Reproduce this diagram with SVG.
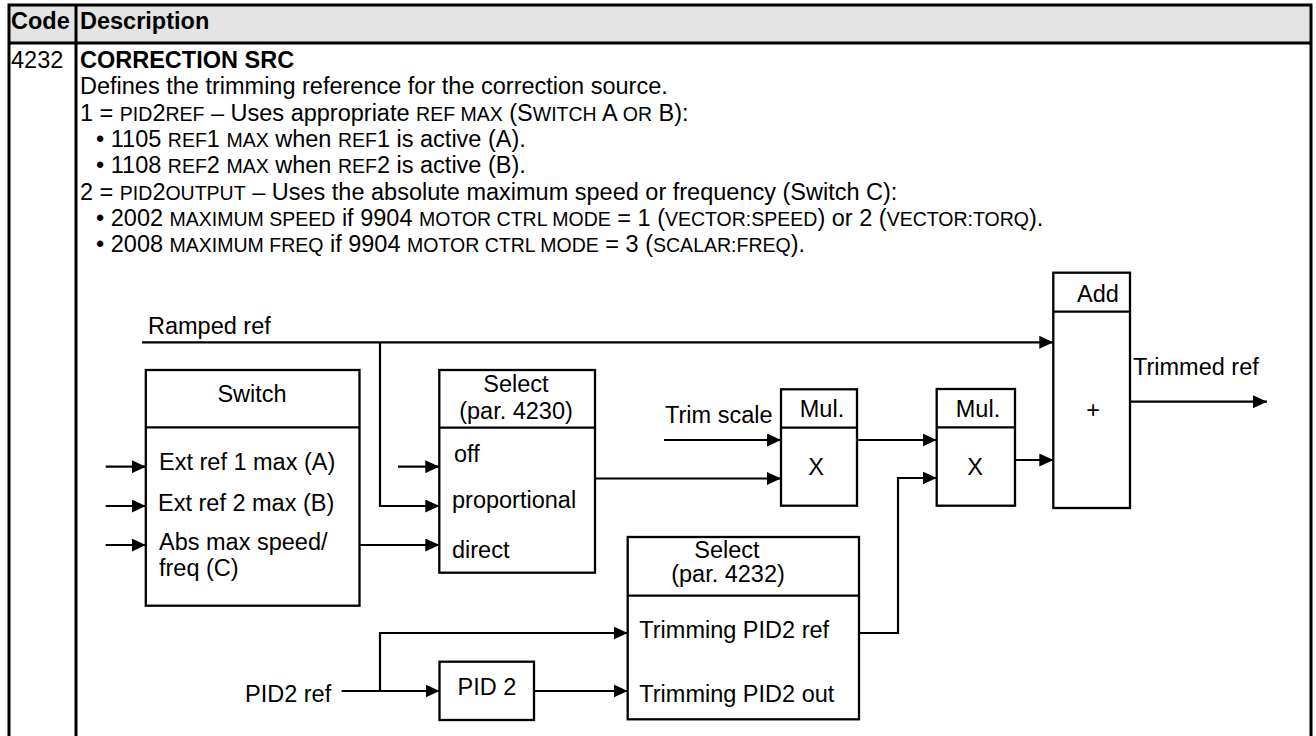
<svg xmlns="http://www.w3.org/2000/svg" width="1316" height="736" viewBox="0 0 1316 736">
<style>
text{font-family:"Liberation Sans",Arial,sans-serif;font-size:23.5px;fill:#000}
.b{font-weight:bold}
.sc{font-size:19.5px}
.mid{text-anchor:middle}
.tbl{stroke:#000;stroke-width:3;fill:none}
.box{stroke:#000;stroke-width:2.3;fill:#fff}
.ln{stroke:#000;stroke-width:2.2;fill:none}
.ar{marker-end:url(#ah)}
</style>
<defs>
<marker id="ah" markerUnits="userSpaceOnUse" markerWidth="14" markerHeight="13" refX="14" refY="6.5" orient="auto">
<path d="M0,0 L14,6.5 L0,13 z" fill="#000"/>
</marker>
</defs>
<rect width="1316" height="736" fill="#fff"/>
<g id="table">
<rect x="9" y="5" width="1302" height="38" fill="#e4e4e4"/>
<path class="tbl" d="M9,736 V5 H1311 V736 M9,43 H1311 M76,5 V736"/>
<text class="b" x="11" y="29">Code</text>
<text class="b" x="80" y="29">Description</text>
<text x="11" y="68">4232</text>
<text class="b" x="80" y="68">CORRECTION SRC</text>
<text x="80" y="94.3">Defines the trimming reference for the correction source.</text>
<text x="80" y="120.6">1 = <tspan class="sc">PID</tspan>2<tspan class="sc">REF</tspan> – Uses appropriate <tspan class="sc">REF MAX</tspan> (S<tspan class="sc">WITCH</tspan> A <tspan class="sc">OR</tspan> B):</text>
<text x="96" y="146.9">• 1105 <tspan class="sc">REF</tspan>1 <tspan class="sc">MAX</tspan> when <tspan class="sc">REF</tspan>1 is active (A).</text>
<text x="96" y="173.2">• 1108 <tspan class="sc">REF</tspan>2 <tspan class="sc">MAX</tspan> when <tspan class="sc">REF</tspan>2 is active (B).</text>
<text x="80" y="199.5">2 = <tspan class="sc">PID</tspan>2<tspan class="sc">OUTPUT</tspan> – Uses the absolute maximum speed or frequency (Switch C):</text>
<text x="96" y="225.8">• 2002 <tspan class="sc">MAXIMUM SPEED</tspan> if 9904 <tspan class="sc">MOTOR CTRL MODE</tspan> = 1 (<tspan class="sc">VECTOR:SPEED</tspan>) or 2 (<tspan class="sc">VECTOR:TORQ</tspan>).</text>
<text x="96" y="252.1">• 2008 <tspan class="sc">MAXIMUM FREQ</tspan> if 9904 <tspan class="sc">MOTOR CTRL MODE</tspan> = 3 (<tspan class="sc">SCALAR:FREQ</tspan>).</text>
</g>
<g id="connectors">
<path class="ln ar" d="M142,342.3 H1053.3"/>
<path class="ln ar" d="M380,342.3 V506 H439.3"/>
<path class="ln ar" d="M105.7,466.7 H145.8"/>
<path class="ln ar" d="M105.7,506 H145.8"/>
<path class="ln ar" d="M105.7,545 H145.8"/>
<path class="ln ar" d="M398,466.7 H439.3"/>
<path class="ln ar" d="M359.5,545 H439.3"/>
<path class="ln ar" d="M595,478.5 H781"/>
<path class="ln ar" d="M664,440 H781"/>
<path class="ln ar" d="M857,440 H936.7"/>
<path class="ln ar" d="M859,633 H898 V478 H936.7"/>
<path class="ln ar" d="M1015,460 H1053.3"/>
<path class="ln ar" d="M1130,401.7 H1267"/>
<path class="ln ar" d="M341.6,691 H439.5"/>
<path class="ln ar" d="M380,691 V633 H627.7"/>
<path class="ln ar" d="M534,691 H627.7"/>
</g>
<g id="labels">
<text x="148" y="334">Ramped ref</text>
<text x="665" y="422.7">Trim scale</text>
<text x="1133" y="375">Trimmed ref</text>
<text x="245" y="701.7">PID2 ref</text>
</g>
<g id="switch">
<rect class="box" x="145.8" y="370" width="213.7" height="235.7"/>
<path class="ln" d="M145.8,427.3 H359.5"/>
<text class="mid" x="252" y="401.7">Switch</text>
<text x="159" y="470">Ext ref 1 max (A)</text>
<text x="158" y="510.7">Ext ref 2 max (B)</text>
<text x="159" y="550">Abs max speed/</text>
<text x="159" y="576">freq (C)</text>
</g>
<g id="select4230">
<rect class="box" x="439.3" y="370" width="155.7" height="202.7"/>
<path class="ln" d="M439.3,427.7 H595"/>
<text class="mid" x="516" y="391.7">Select</text>
<text class="mid" x="516" y="419">(par. 4230)</text>
<text x="454" y="462">off</text>
<text x="452" y="508.3">proportional</text>
<text x="452" y="557.7">direct</text>
</g>
<g id="mul1">
<rect class="box" x="781" y="389.3" width="76" height="116.4"/>
<path class="ln" d="M781,427.7 H857"/>
<text class="mid" x="822" y="416.7">Mul.</text>
<text class="mid" x="816" y="475">X</text>
</g>
<g id="mul2">
<rect class="box" x="936.7" y="389" width="78.3" height="116.7"/>
<path class="ln" d="M936.7,427.3 H1015"/>
<text class="mid" x="978" y="416.7">Mul.</text>
<text class="mid" x="975" y="475">X</text>
</g>
<g id="add">
<rect class="box" x="1053.3" y="272.7" width="76.7" height="235.3"/>
<path class="ln" d="M1053.3,311.7 H1130"/>
<text class="mid" x="1098" y="301.7">Add</text>
<text class="mid" x="1093" y="418">+</text>
</g>
<g id="select4232">
<rect class="box" x="627.7" y="537" width="231.3" height="182.3"/>
<path class="ln" d="M627.7,595.7 H859"/>
<text class="mid" x="727" y="558.3">Select</text>
<text class="mid" x="728" y="581.7">(par. 4232)</text>
<text x="639.3" y="638.3">Trimming PID2 ref</text>
<text x="639.3" y="701.7">Trimming PID2 out</text>
</g>
<g id="pid2">
<rect class="box" x="439.5" y="661.7" width="94.5" height="58.3"/>
<text class="mid" x="487" y="695">PID 2</text>
</g>
</svg>
